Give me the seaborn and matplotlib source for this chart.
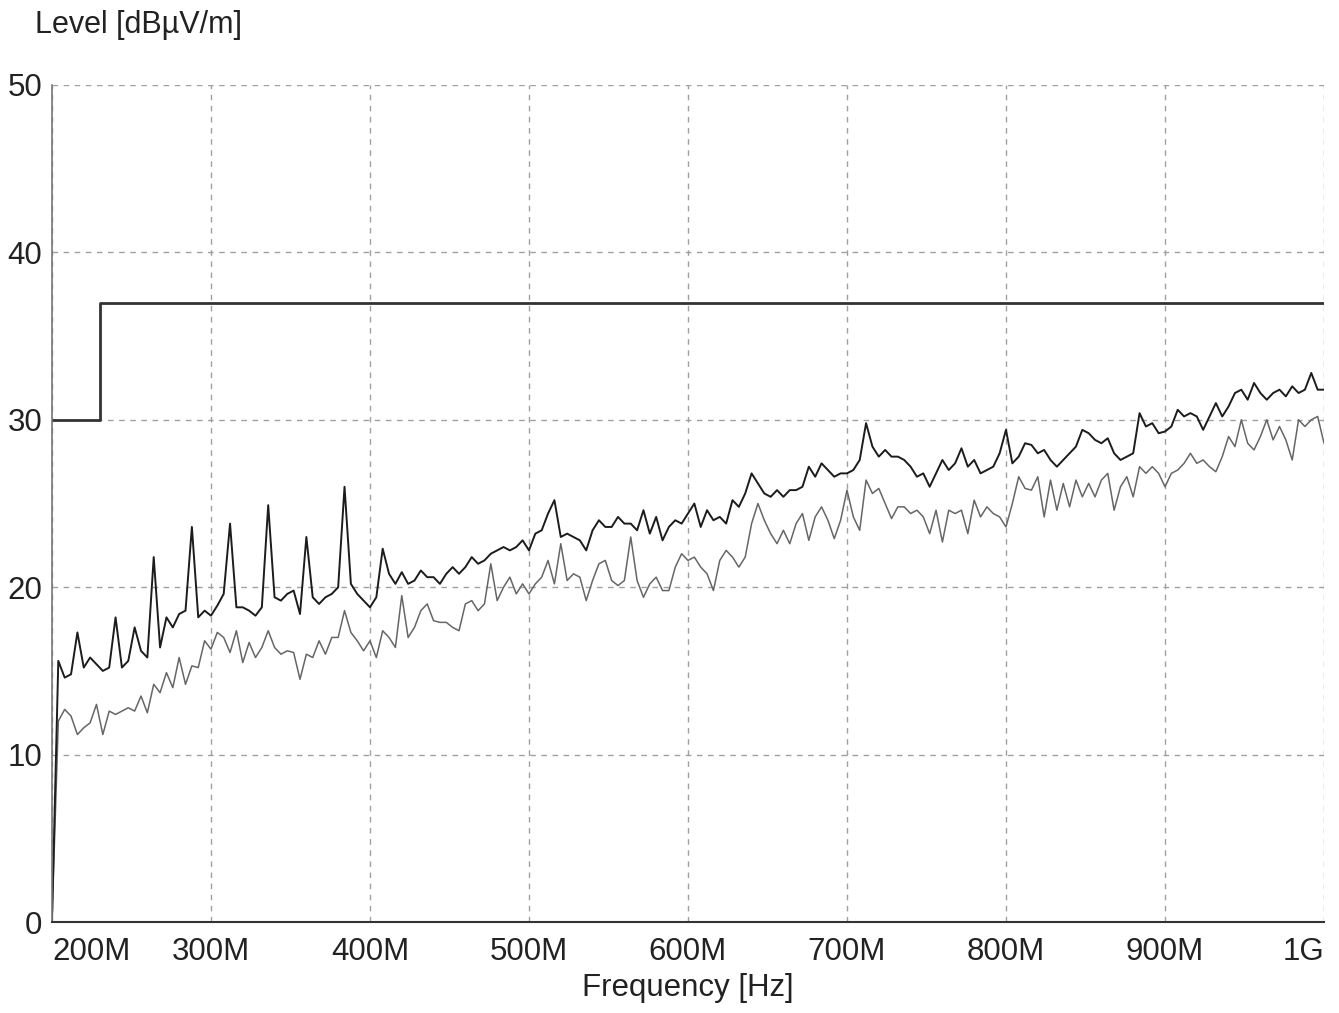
"""
EMI scan plot: two measured traces plus the limit line
"""
import numpy as np
import matplotlib
matplotlib.use("Agg")
import matplotlib.pyplot as plt
import seaborn as sns

# sweep points in MHz (4 MHz step)
freq_mhz = np.arange(200, 1001, 4)

# upper (darker) trace, dBuV/m
level_upper = [
    0, 15.6, 14.6, 14.8, 17.3, 15.2, 15.8, 15.4, 15.0, 15.2,
    18.2, 15.2, 15.6, 17.6, 16.2, 15.8, 21.8, 16.4, 18.2, 17.6,
    18.4, 18.6, 23.6, 18.2, 18.6, 18.3,
    18.9, 19.6, 23.8, 18.8, 18.8, 18.6, 18.3, 18.8, 24.9, 19.4,
    19.2, 19.6, 19.8, 18.4, 23.0, 19.4, 19.0, 19.4, 19.6, 20.0,
    26.0, 20.2, 19.6, 19.2, 18.8,
    19.4, 22.3, 20.8, 20.2, 20.9, 20.2, 20.4, 21.0, 20.6, 20.6,
    20.2, 20.8, 21.2, 20.8, 21.2, 21.8, 21.4, 21.6, 22.0, 22.2,
    22.4, 22.2, 22.4, 22.8, 22.2,
    23.2, 23.4, 24.4, 25.2, 23.0, 23.2, 23.0, 22.8, 22.2, 23.4,
    24.0, 23.6, 23.6, 24.2, 23.8, 23.8, 23.4, 24.6, 23.2, 24.2,
    22.8, 23.6, 24.0, 23.8, 24.4,
    25.0, 23.6, 24.6, 24.0, 24.2, 23.8, 25.2, 24.8, 25.6, 26.8,
    26.2, 25.6, 25.4, 25.8, 25.4, 25.8, 25.8, 26.0, 27.2, 26.6,
    27.4, 27.0, 26.6, 26.8, 26.8,
    27.0, 27.6, 29.8, 28.4, 27.8, 28.2, 27.8, 27.8, 27.6, 27.2,
    26.6, 26.8, 26.0, 26.8, 27.6, 27.0, 27.4, 28.3, 27.2, 27.6,
    26.8, 27.0, 27.2, 28.0, 29.4,
    27.4, 27.8, 28.6, 28.5, 28.0, 28.2, 27.6, 27.2, 27.6, 28.0,
    28.4, 29.4, 29.2, 28.8, 28.6, 28.9, 28.0, 27.6, 27.8, 28.0,
    30.4, 29.6, 29.8, 29.2, 29.3,
    29.6, 30.6, 30.2, 30.4, 30.2, 29.4, 30.2, 31.0, 30.2, 30.8,
    31.6, 31.8, 31.2, 32.2, 31.6, 31.2, 31.6, 31.8, 31.4, 32.0,
    31.6, 31.8, 32.8, 31.8, 31.8,
]

# lower (grey) trace, dBuV/m
level_lower = [
    0, 12.0, 12.7, 12.3, 11.2, 11.6, 11.9, 13.0, 11.2, 12.6,
    12.4, 12.6, 12.8, 12.6, 13.5, 12.5, 14.2, 13.7, 14.9, 14.0,
    15.8, 14.2, 15.3, 15.2, 16.8, 16.3,
    17.3, 17.0, 16.1, 17.4, 15.5, 16.7, 15.8, 16.4, 17.4, 16.4,
    16.0, 16.2, 16.1, 14.5, 16.0, 15.8, 16.8, 16.0, 17.0, 17.0,
    18.6, 17.3, 16.8, 16.2, 16.8,
    15.8, 17.4, 17.0, 16.4, 19.5, 17.0, 17.6, 18.6, 19.0, 18.0,
    17.9, 17.9, 17.6, 17.4, 19.0, 19.2, 18.6, 19.0, 21.4, 19.2,
    20.0, 20.6, 19.6, 20.2, 19.6,
    20.2, 20.6, 21.6, 20.2, 22.6, 20.4, 20.8, 20.6, 19.2, 20.4,
    21.4, 21.6, 20.4, 20.1, 20.4, 23.0, 20.4, 19.4, 20.2, 20.6,
    19.8, 19.8, 21.2, 22.0, 21.6,
    21.8, 21.2, 20.8, 19.8, 21.6, 22.2, 21.8, 21.2, 21.8, 23.8,
    25.0, 24.0, 23.2, 22.6, 23.4, 22.6, 23.8, 24.4, 22.8, 24.2,
    24.8, 24.0, 22.9, 24.0, 25.8,
    24.2, 23.4, 26.4, 25.6, 25.9, 25.0, 24.1, 24.8, 24.8, 24.4,
    24.6, 24.2, 23.2, 24.6, 22.7, 24.6, 24.4, 24.6, 23.2, 25.2,
    24.2, 24.8, 24.4, 24.2, 23.6,
    25.0, 26.6, 25.9, 25.8, 26.6, 24.2, 26.4, 24.6, 26.2, 24.8,
    26.4, 25.4, 26.2, 25.4, 26.4, 26.8, 24.6, 26.0, 26.6, 25.4,
    27.2, 26.8, 27.2, 26.8, 26.0,
    26.8, 27.0, 27.4, 28.0, 27.4, 27.6, 27.2, 26.9, 27.8, 29.0,
    28.4, 30.0, 28.6, 28.2, 29.0, 30.0, 28.8, 29.6, 28.8, 27.6,
    30.0, 29.6, 30.0, 30.2, 28.6,
]

# limit line (step at 230 MHz)
limit_freq = [200, 230, 1000]
limit_level = [30, 37, 37]

x_ticks = [200, 300, 400, 500, 600, 700, 800, 900, 1000]
x_tick_labels = ["200M", "300M", "400M", "500M", "600M", "700M", "800M", "900M", "1G"]
y_ticks = [0, 10, 20, 30, 40, 50]

sns.set_style("white")
plt.rcParams["font.family"] = ["Liberation Sans", "DejaVu Sans"]

fig = plt.figure(figsize=(13.39, 10.13), dpi=100)
ax = fig.add_axes([0.0388, 0.0898, 0.9500, 0.8263])

sns.lineplot(x=limit_freq, y=limit_level, ax=ax, color="#333333", linewidth=2.0,
             drawstyle="steps-post", estimator=None)
sns.lineplot(x=freq_mhz, y=level_lower, ax=ax, color="#666666", linewidth=1.1,
             estimator=None, sort=False)
sns.lineplot(x=freq_mhz, y=level_upper, ax=ax, color="#1c1c1c", linewidth=1.4,
             estimator=None, sort=False)

ax.set_xlim(200, 1000)
ax.set_ylim(0, 50)
ax.set_xticks(x_ticks)
ax.set_xticklabels(x_tick_labels)
ax.set_yticks(y_ticks)
labels = ax.get_xticklabels()
labels[0].set_horizontalalignment("left")
labels[-1].set_horizontalalignment("right")
ax.tick_params(axis="both", length=0, labelsize=22.5, colors="#222222")
ax.tick_params(axis="x", pad=11)
ax.tick_params(axis="y", pad=7)

ax.grid(True, color="#a0a0a0", linestyle=(0, (4, 4)), linewidth=1.0)
for side in ["top", "right"]:
    ax.spines[side].set_visible(False)
ax.spines["left"].set_color("#777777")
ax.spines["bottom"].set_color("#333333")
ax.spines["left"].set_linewidth(1.2)
ax.spines["bottom"].set_linewidth(1.5)

ax.set_xlabel("Frequency [Hz]", fontsize=22.5, color="#222222", labelpad=4)
ax.set_ylabel("")
fig.text(0.026, 1 - 25 / 1013, "Level [dBµV/m]", fontsize=22, color="#222222", va="center", ha="left")

fig.savefig("out.png", dpi=100)
